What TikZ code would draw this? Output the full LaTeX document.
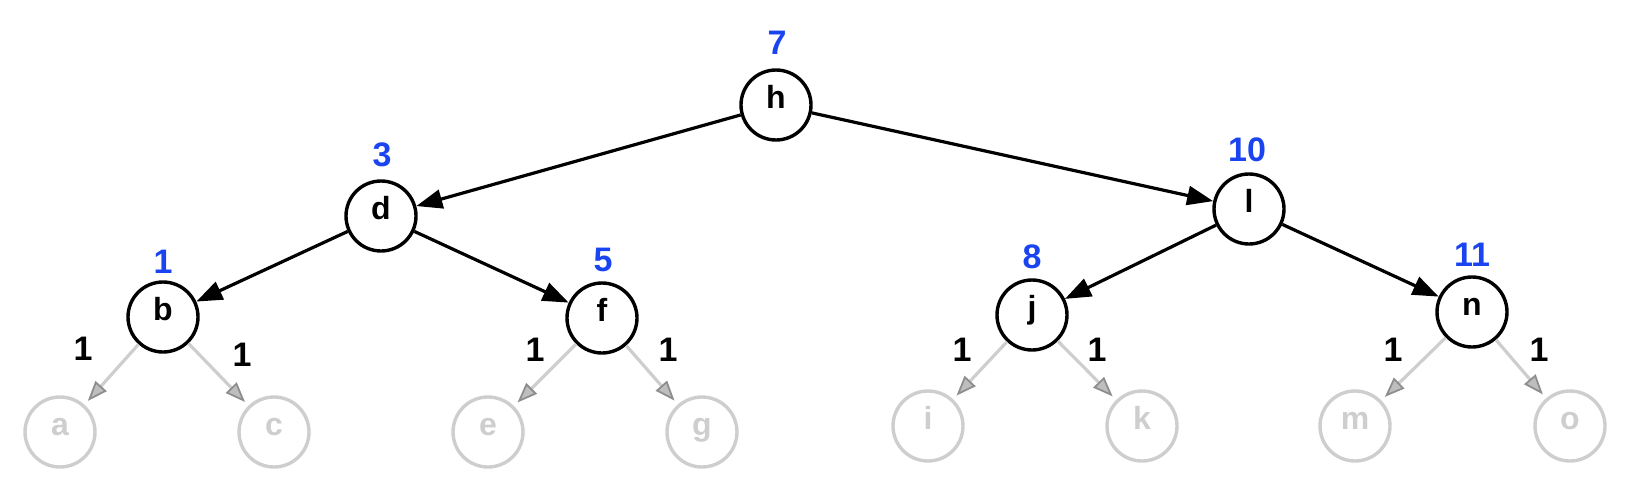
\documentclass[tikz,border=0pt]{standalone}
\usepackage{fontspec}
\setmainfont{Liberation Sans}
\usetikzlibrary{arrows.meta}
\definecolor{numblue}{RGB}{26,68,240}
\definecolor{leafgray}{RGB}{206,206,206}
\definecolor{tipgray}{RGB}{190,190,190}
\tikzset{
  inner/.style={circle, draw=black, line width=3.4pt, minimum size=70pt, inner sep=0pt,
    font=\bfseries\fontsize{32}{32}\selectfont, text height=0.72em, text depth=0pt},
  leaf/.style={circle, draw=leafgray, text=leafgray, line width=3.4pt, minimum size=70pt, inner sep=0pt,
    font=\bfseries\fontsize{32}{32}\selectfont, text height=0.72em, text depth=0pt},
  rank/.style={text=numblue, inner sep=0pt, font=\bfseries\fontsize{34}{34}\selectfont},
  wlabel/.style={text=black, inner sep=0pt, font=\bfseries\fontsize{34}{34}\selectfont},
  tree/.style={draw=black, line width=3.2pt, -{Triangle[length=26pt,width=19pt]}},
  fade/.style={draw=leafgray, line width=3.2pt, shorten >=5pt,
    -{Triangle[length=20pt,width=15pt,line width=1.8pt,fill=tipgray,color=tipgray!75!black]}},
}
\begin{document}
\begin{tikzpicture}[x=1pt,y=-1pt]
\useasboundingbox (0,0) rectangle (1630,490);
% inner nodes
\node[inner] (h) at (776,105) {h};
\node[inner] (d) at (381,216) {d};
\node[inner] (l) at (1249,209) {l};
\node[inner] (b) at (163,317) {b};
\node[inner] (f) at (602,318) {f};
\node[inner] (j) at (1032,315) {j};
\node[inner] (n) at (1472,312) {n};
% leaves
\node[leaf] (a) at (60,432) {a};
\node[leaf] (c) at (274,432) {c};
\node[leaf] (e) at (488,432) {e};
\node[leaf] (g) at (702,432) {g};
\node[leaf] (i) at (928,426) {i};
\node[leaf] (k) at (1142,426) {k};
\node[leaf] (m) at (1355,426) {m};
\node[leaf] (o) at (1570,426) {o};
% ranks
\node[rank] (rh) at (777,43) {7};
\node[rank] (rd) at (382,155) {3};
\node[rank] (rl) at (1247,150) {10};
\node[rank] (rb) at (163,262) {1};
\node[rank] (rf) at (603,260) {5};
\node[rank] (rj) at (1032,257) {8};
\node[rank] (rn) at (1472,255) {11};
% weights
\node[wlabel] (wa) at (83,349) {1};
\node[wlabel] (wc) at (242,355) {1};
\node[wlabel] (we) at (535,350) {1};
\node[wlabel] (wg) at (668,350) {1};
\node[wlabel] (wi) at (962,350) {1};
\node[wlabel] (wk) at (1097,350) {1};
\node[wlabel] (wm) at (1393,350) {1};
\node[wlabel] (wo) at (1539,350) {1};
% edges
\draw[tree] (h) -- (d);
\draw[tree] (h) -- (l);
\draw[tree] (d) -- (b);
\draw[tree] (d) -- (f);
\draw[tree] (l) -- (j);
\draw[tree] (l) -- (n);
\draw[fade] (b) -- (a);
\draw[fade] (b) -- (c);
\draw[fade] (f) -- (e);
\draw[fade] (f) -- (g);
\draw[fade] (j) -- (i);
\draw[fade] (j) -- (k);
\draw[fade] (n) -- (m);
\draw[fade] (n) -- (o);
\end{tikzpicture}
\end{document}
